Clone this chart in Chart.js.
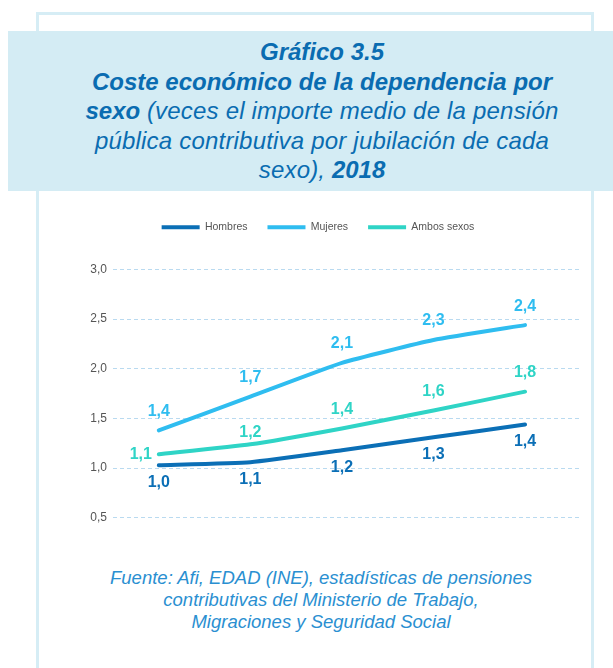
<!DOCTYPE html>
<html>
<head>
<meta charset="utf-8">
<script src="https://cdn.jsdelivr.net/npm/chart.js@4"></script>
<style>
  html, body { margin: 0; padding: 0; background: #fff; }
  body { width: 613px; height: 668px; position: relative; overflow: hidden; font-family: "Liberation Sans", Arial, sans-serif; }
  #marco { position: absolute; left: 36px; top: 12px; width: 552px; height: 700px; border: 3px solid #d6edf5; }
  #banda { position: absolute; left: 8px; top: 31px; width: 605px; height: 160px; background: #d4ecf4; }
  #titulo { position: absolute; left: 22px; top: 37px; width: 600px; text-align: center; color: #0a6cb1; font-size: 24px; line-height: 29.5px; white-space: nowrap; }
  #titulo b { font-weight: bold; font-style: italic; }
  #titulo i { font-style: italic; font-weight: normal; letter-spacing: 0.2px; }
  #fuente { position: absolute; left: 20px; top: 567px; width: 602px; text-align: center; color: #2a8fd1; font-style: italic; font-size: 18.5px; line-height: 22px; white-space: nowrap; }
  #lienzo { position: absolute; left: 40px; top: 202px; width: 550px; height: 329px; }
</style>
</head>
<body>
<div id="marco"></div>
<div id="banda"></div>
<div id="titulo"><b>Gráfico 3.5</b><br><b>Coste económico de la dependencia por</b><br><b>sexo</b> <i>(veces el importe medio de la pensión</i><br><i>pública contributiva por jubilación de cada</i><br><i>sexo),</i> <b>2018</b></div>
<div id="lienzo"><canvas id="grafico"></canvas></div>
<div id="fuente">Fuente: Afi, EDAD (INE), estadísticas de pensiones<br>contributivas del Ministerio de Trabajo,<br>Migraciones y Seguridad Social</div>
<script>
const categorias = ['1', '2', '3', '4', '5'];
const hombres = [1.03, 1.06, 1.18, 1.31, 1.44];
const mujeres = [1.38, 1.72, 2.06, 2.29, 2.44];
const ambos = [1.14, 1.24, 1.40, 1.58, 1.77];
const ticksY = [0.5, 1.0, 1.5, 2.0, 2.5, 3.0];

const coma = (v) => v.toFixed(1).replace('.', ',');
const puntos = (arr) => arr.map((v, i) => ({ x: i, y: v }));

const serie = (label, data, color, pos) => ({
    label: label,
    data: puntos(data),
    borderColor: color,
    backgroundColor: color,
    borderWidth: 4,
    borderCapStyle: 'round',
    pointRadius: 0,
    tension: 0.15,
    posEtiqueta: pos
});

// etiquetas de valor sobre cada punto
const etiquetas = {
    id: 'etiquetas',
    afterDatasetsDraw(chart) {
        const c = chart.ctx;
        c.save();
        c.font = 'bold 16px "Liberation Sans", Arial, sans-serif';
        c.textAlign = 'center';
        c.textBaseline = 'middle';
        chart.data.datasets.forEach((ds, d) => {
            chart.getDatasetMeta(d).data.forEach((p, i) => {
                let dx = 0, dy = ds.posEtiqueta === 'abajo' ? 17 : -19;
                if (ds.posEtiqueta === 'arriba-izq' && i === 0) { dx = -18; dy = 0; }
                else if (ds.posEtiqueta === 'arriba-izq' && i === 1) { dy = -12; }
                c.fillStyle = ds.borderColor;
                c.fillText(coma(ds.data[i].y), p.x + dx, p.y + dy);
            });
        });
        c.restore();
    }
};

const espacioLeyenda = {
    id: 'espacioLeyenda',
    beforeInit(chart) {
        const fit = chart.legend.fit;
        chart.legend.fit = function () {
            fit.bind(this)();
            this.height += 27;
        };
    }
};

new Chart(document.getElementById('grafico'), {
    type: 'line',
    data: {
        labels: categorias,
        datasets: [
            serie('Hombres', hombres, '#0b6fb6', 'abajo'),
            serie('Mujeres', mujeres, '#2fbdf0', 'arriba'),
            serie('Ambos sexos', ambos, '#2fd4c6', 'arriba-izq')
        ]
    },
    options: {
        responsive: true,
        maintainAspectRatio: false,
        animation: false,
        layout: { padding: { left: 16, right: 10, top: 0, bottom: 10 } },
        plugins: {
            tooltip: { enabled: false },
            legend: {
                position: 'top',
                labels: {
                    usePointStyle: true,
                    pointStyle: 'line',
                    pointStyleWidth: 38,
                    padding: 20,
                    color: '#555',
                    font: { size: 10.5, family: '"Liberation Sans", Arial, sans-serif' }
                }
            }
        },
        scales: {
            x: {
                type: 'linear',
                min: -0.5,
                max: 4.6,
                display: false
            },
            y: {
                min: 0.5,
                max: 3.0,
                afterBuildTicks: (s) => { s.ticks = ticksY.map(v => ({ value: v })); },
                afterFit: (s) => { s.width = 57; },
                border: { display: false, dash: [4, 3] },
                grid: { color: '#b9daf0', lineWidth: 1, drawTicks: false },
                ticks: {
                    padding: 6,
                    color: '#555',
                    font: { size: 12, family: '"Liberation Sans", Arial, sans-serif' },
                    callback: (v) => coma(v)
                }
            }
        }
    },
    plugins: [etiquetas, espacioLeyenda]
});
</script>
</body>
</html>
